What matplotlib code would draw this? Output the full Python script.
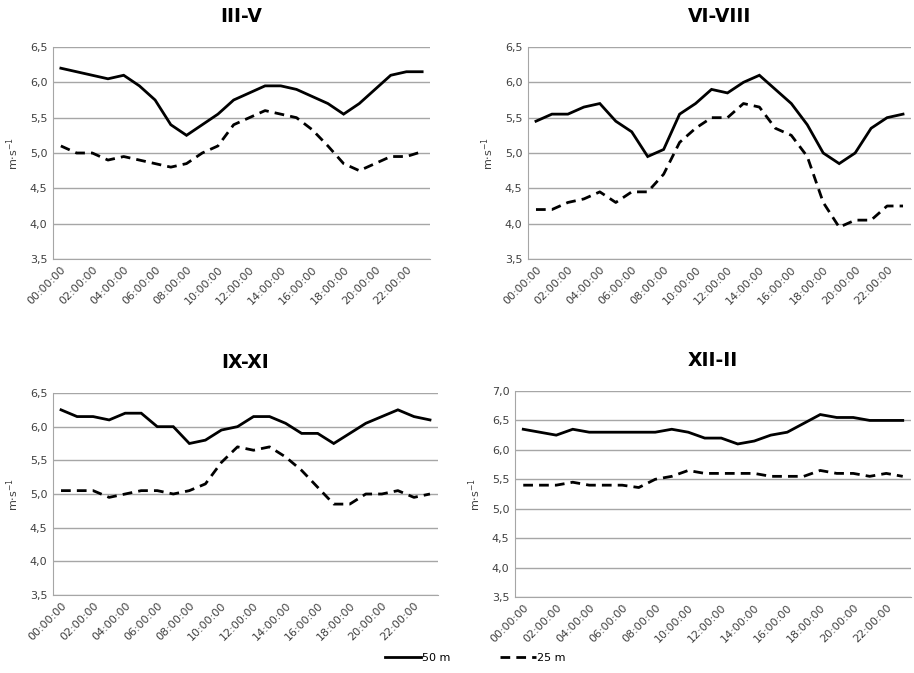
import matplotlib.pyplot as plt
import numpy as np

# Hourly mean wind speed by season, at two measurement heights
hours = [f"{h:02d}:00:00" for h in range(24)]

seasons = ["III-V", "VI-VIII", "IX-XI", "XII-II"]

speed_50m = {
    "III-V": [6.2, 6.15, 6.1, 6.05, 6.1, 5.95, 5.75, 5.4, 5.25, 5.4, 5.55, 5.75,
              5.85, 5.95, 5.95, 5.9, 5.8, 5.7, 5.55, 5.7, 5.9, 6.1, 6.15, 6.15],
    "VI-VIII": [5.45, 5.55, 5.55, 5.65, 5.7, 5.45, 5.3, 4.95, 5.05, 5.55, 5.7, 5.9,
                5.85, 6.0, 6.1, 5.9, 5.7, 5.4, 5.0, 4.85, 5.0, 5.35, 5.5, 5.55],
    "IX-XI": [6.25, 6.15, 6.15, 6.1, 6.2, 6.2, 6.0, 6.0, 5.75, 5.8, 5.95, 6.0,
              6.15, 6.15, 6.05, 5.9, 5.9, 5.75, 5.9, 6.05, 6.15, 6.25, 6.15, 6.1],
    "XII-II": [6.35, 6.3, 6.25, 6.35, 6.3, 6.3, 6.3, 6.3, 6.3, 6.35, 6.3, 6.2,
               6.2, 6.1, 6.15, 6.25, 6.3, 6.45, 6.6, 6.55, 6.55, 6.5, 6.5, 6.5],
}

speed_25m = {
    "III-V": [5.1, 5.0, 5.0, 4.9, 4.95, 4.9, 4.85, 4.8, 4.85, 5.0, 5.1, 5.4,
              5.5, 5.6, 5.55, 5.5, 5.33, 5.1, 4.85, 4.75, 4.85, 4.95, 4.95, 5.02],
    "VI-VIII": [4.2, 4.2, 4.3, 4.35, 4.45, 4.3, 4.45, 4.45, 4.7, 5.15, 5.35, 5.5,
                5.5, 5.7, 5.65, 5.35, 5.25, 4.95, 4.3, 3.95, 4.05, 4.05, 4.25, 4.25],
    "IX-XI": [5.05, 5.05, 5.05, 4.95, 5.0, 5.05, 5.05, 5.0, 5.05, 5.15, 5.47, 5.7,
              5.65, 5.7, 5.55, 5.35, 5.1, 4.85, 4.85, 5.0, 5.0, 5.05, 4.95, 5.0],
    "XII-II": [5.4, 5.4, 5.4, 5.45, 5.4, 5.4, 5.4, 5.36, 5.5, 5.55, 5.65, 5.6,
               5.6, 5.6, 5.6, 5.55, 5.55, 5.55, 5.65, 5.6, 5.6, 5.55, 5.6, 5.55],
}

y_ranges = {
    "III-V": (3.5, 6.5),
    "VI-VIII": (3.5, 6.5),
    "IX-XI": (3.5, 6.5),
    "XII-II": (3.5, 7.0),
}

# axes rectangles in pixels: left, top, right, bottom
W, H = 914, 673
boxes = {
    "III-V": (53, 47, 430, 259),
    "VI-VIII": (528, 47, 911, 259),
    "IX-XI": (53, 393, 438, 595),
    "XII-II": (515, 391, 911, 597),
}

fig = plt.figure(figsize=(W / 100, H / 100), dpi=100)
grid_color = "#a6a6a6"
text_color = "#404040"

x = np.arange(len(hours))
for season in seasons:
    l, t, r, b = boxes[season]
    ax = fig.add_axes([l / W, 1 - b / H, (r - l) / W, (b - t) / H])
    solid, = ax.plot(x, speed_50m[season], color="black", linewidth=2.0,
                     solid_joinstyle="miter")
    dashed, = ax.plot(x, speed_25m[season], color="black", linewidth=2.0,
                      linestyle=(0, (3.5, 2.2)))
    lo, hi = y_ranges[season]
    ax.set_ylim(lo, hi)
    ax.set_yticks(np.arange(lo, hi + 0.01, 0.5))
    ax.set_yticklabels([f"{v:.1f}".replace(".", ",") for v in ax.get_yticks()])
    ax.set_xlim(-0.5, len(hours) - 0.5)
    ax.set_xticks(x[::2])
    ax.set_xticklabels(hours[::2], rotation=45, ha="right",
                       rotation_mode="anchor")
    ax.tick_params(length=0, labelsize=8, colors=text_color, pad=4)
    ax.yaxis.grid(True, color=grid_color, linewidth=1)
    ax.set_axisbelow(True)
    for side in ("top", "right"):
        ax.spines[side].set_visible(False)
    for side in ("left", "bottom"):
        ax.spines[side].set_color(grid_color)
    ax.set_ylabel(r"m$\cdot$s$^{-1}$", fontsize=8, color=text_color, labelpad=6)
    ax.set_title(season, fontsize=13.5, fontweight="bold", pad=18)

fig.legend([solid, dashed], ["50 m", "25 m"], loc="lower center",
           bbox_to_anchor=(0.52, 0.0), ncol=2, frameon=False, fontsize=8,
           handlelength=3.2, columnspacing=4.5, handletextpad=0.1)

fig.savefig("out.png", dpi=100, facecolor="white")
